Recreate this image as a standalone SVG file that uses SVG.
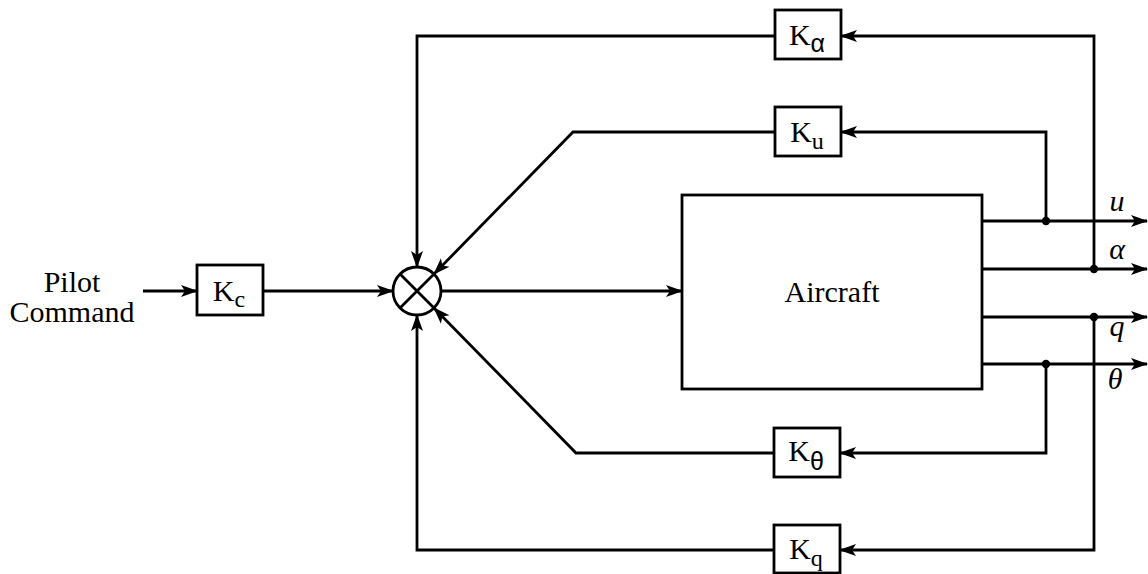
<svg xmlns="http://www.w3.org/2000/svg" width="1148" height="574" viewBox="0 0 1148 574">
<defs>
<marker id="ah" markerUnits="userSpaceOnUse" markerWidth="18" markerHeight="14" refX="16" refY="6" orient="auto" viewBox="0 0 18 12">
<path d="M0,0 L17,6 L0,12 L4,6 Z" fill="#000"/>
</marker>
<style>
.ln{fill:none;stroke:#000;stroke-width:2.8;stroke-linejoin:miter}
.bx{fill:#fff;stroke:#000;stroke-width:2.8}
.t{font-family:"Liberation Serif","Times New Roman",serif;font-size:30px;fill:#000}
.sub{font-family:"Liberation Serif","Times New Roman",serif;font-size:24px}
.gsub{font-family:"Liberation Sans",Arial,sans-serif;font-size:25px}
.it{font-family:"Liberation Serif","Times New Roman",serif;font-size:30px;font-style:italic;fill:#000}
.dot{fill:#000}
</style>
</defs>
<rect width="1148" height="574" fill="#fff"/>

<g id="connectors">
<path class="ln" d="M143,291 H197" marker-end="url(#ah)"/>
<path class="ln" d="M263,291 H393" marker-end="url(#ah)"/>
<path class="ln" d="M441,291 H682" marker-end="url(#ah)"/>
<path class="ln" d="M982,221 H1147" marker-end="url(#ah)"/>
<path class="ln" d="M982,269 H1147" marker-end="url(#ah)"/>
<path class="ln" d="M982,317 H1147" marker-end="url(#ah)"/>
<path class="ln" d="M982,364 H1147" marker-end="url(#ah)"/>
<path class="ln" d="M1094,269 V36 H841" marker-end="url(#ah)"/>
<path class="ln" d="M775,36 H417 V267" marker-end="url(#ah)"/>
<path class="ln" d="M1046,221 V132 H841" marker-end="url(#ah)"/>
<path class="ln" d="M775,132 H573 L434,274" marker-end="url(#ah)"/>
<path class="ln" d="M1046,364 V453 H840" marker-end="url(#ah)"/>
<path class="ln" d="M775,453 H576 L434,308" marker-end="url(#ah)"/>
<path class="ln" d="M1094,317 V550 H840" marker-end="url(#ah)"/>
<path class="ln" d="M775,550 H417 V315" marker-end="url(#ah)"/>
<circle class="dot" cx="1046" cy="221" r="4.2"/>
<circle class="dot" cx="1094" cy="269" r="4.2"/>
<circle class="dot" cx="1094" cy="317" r="4.2"/>
<circle class="dot" cx="1046" cy="364" r="4.2"/>
</g>

<g id="pilot-command">
<text class="t" x="72" y="292" text-anchor="middle">Pilot</text>
<text class="t" x="72" y="322" text-anchor="middle">Command</text>
</g>

<g id="Kc">
<rect class="bx" x="197" y="265" width="66" height="50"/>
<text class="t" x="229" y="301" text-anchor="middle">K<tspan class="sub" dy="6">c</tspan></text>
</g>

<g id="sum">
<circle cx="417" cy="291" r="24" fill="#fff" stroke="#000" stroke-width="2.8"/>
<path class="ln" d="M400,274 L434,308 M434,274 L400,308"/>
</g>

<g id="aircraft">
<rect class="bx" x="682" y="195" width="300" height="194"/>
<text class="t" x="832" y="302" text-anchor="middle">Aircraft</text>
</g>

<g id="Kalpha">
<rect class="bx" x="775" y="10" width="66" height="49"/>
<text class="t" x="807" y="45" text-anchor="middle">K<tspan class="gsub" dy="7">α</tspan></text>
</g>

<g id="Ku">
<rect class="bx" x="775" y="107" width="66" height="49"/>
<text class="t" x="807" y="142" text-anchor="middle">K<tspan class="sub" dy="7">u</tspan></text>
</g>

<g id="Ktheta">
<rect class="bx" x="774" y="428" width="66" height="49"/>
<text class="t" x="806" y="461" text-anchor="middle">K<tspan class="gsub" dy="9">θ</tspan></text>
</g>

<g id="Kq">
<rect class="bx" x="774" y="525" width="66" height="48"/>
<text class="t" x="806" y="559" text-anchor="middle">K<tspan class="sub" dy="7">q</tspan></text>
</g>

<g id="labels">
<text class="it" x="1117" y="211" text-anchor="middle">u</text>
<text class="it" x="1117" y="259" text-anchor="middle">α</text>
<text class="it" x="1117" y="336" text-anchor="middle">q</text>
<text class="it" x="1115" y="389" text-anchor="middle">θ</text>
</g>
</svg>
